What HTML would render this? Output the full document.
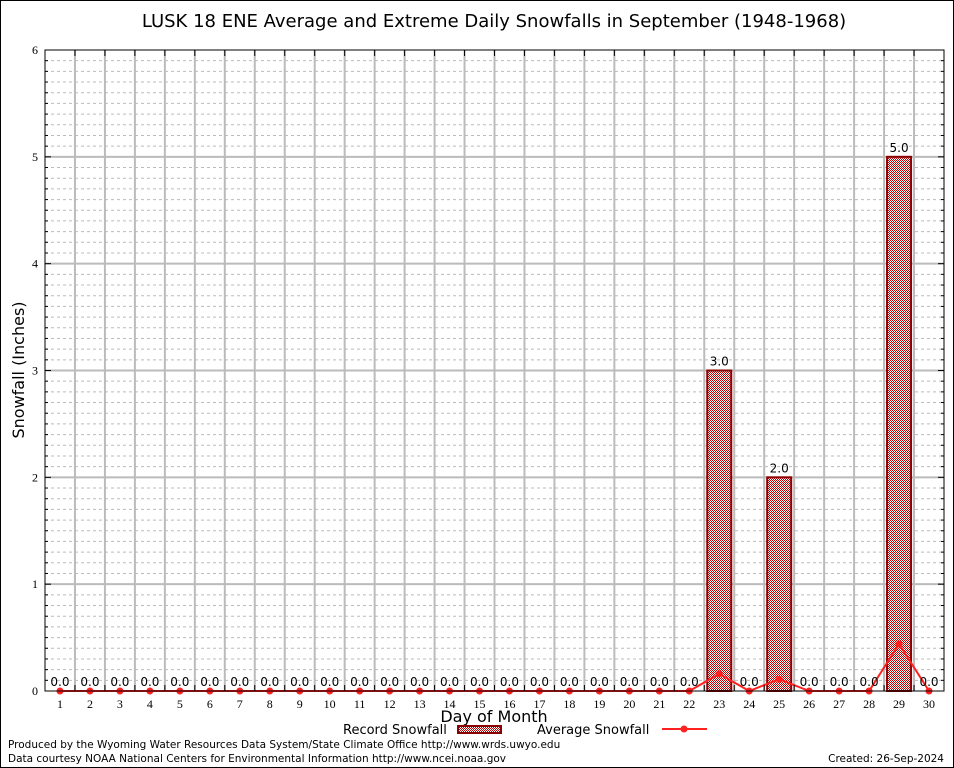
<!DOCTYPE html>
<html><head><meta charset="utf-8"><style>
body{margin:0;background:#fff;}
svg{display:block;font-family:"DejaVu Sans","Liberation Sans",sans-serif;}
</style></head><body>
<svg id="chart" width="954" height="768" viewBox="0 0 954 768">
<defs>
<pattern id="chk" width="2" height="2" patternUnits="userSpaceOnUse">
<rect width="2" height="2" fill="#fff"/><rect width="1" height="1" fill="#c00000"/><rect x="1" y="1" width="1" height="1" fill="#c00000"/>
</pattern>
</defs>
<rect x="0.5" y="0.5" width="953" height="767" fill="#fff" stroke="#000"/>
<text x="494" y="27" font-size="18" text-anchor="middle">LUSK 18 ENE Average and Extreme Daily Snowfalls in September (1948-1968)</text>
<g id="grid"></g>
<g id="bars"></g>
<g id="avg"></g>
<g id="labels"></g>
<rect x="45" y="50" width="899" height="641" fill="none" stroke="#000"/>
<g id="axes"></g>
<text x="24" y="370" font-size="16" text-anchor="middle" transform="rotate(-90 24 370)">Snowfall (Inches)</text>
<text x="494" y="722" font-size="16" text-anchor="middle">Day of Month</text>
<g>
<text x="343" y="734" font-size="13">Record Snowfall</text>
<rect x="458" y="726" width="43" height="7" fill="url(#chk)" stroke="#8b0000" stroke-width="2"/>
</g>
<g>
<text x="537" y="734" font-size="13">Average Snowfall</text>
<line x1="662" y1="729" x2="707" y2="729" stroke="#ff2020" stroke-width="2"/>
<circle cx="684" cy="729" r="3.5" fill="#ff2020"/>
</g>
<text x="8" y="748" font-size="10.5">Produced by the Wyoming Water Resources Data System/State Climate Office http://www.wrds.uwyo.edu</text>
<text x="8" y="762" font-size="10.5">Data courtesy NOAA National Centers for Environmental Information http://www.ncei.noaa.gov</text>
<text x="944" y="762" font-size="10.5" text-anchor="end">Created: 26-Sep-2024</text>
</svg>
<script>
const days=[1,2,3,4,5,6,7,8,9,10,11,12,13,14,15,16,17,18,19,20,21,22,23,24,25,26,27,28,29,30];
const recordSnow=[0,0,0,0,0,0,0,0,0,0,0,0,0,0,0,0,0,0,0,0,0,0,3,0,2,0,0,0,5,0];
const avgSnow=[0,0,0,0,0,0,0,0,0,0,0,0,0,0,0,0,0,0,0,0,0,0,0.16,0,0.11,0,0,0,0.44,0];
const yTicks=[0,1,2,3,4,5,6];
const NS="http://www.w3.org/2000/svg";
const L=45,R=944,T=50,B=691,yMax=6;
const step=(R-L)/days.length;
const xs=d=>L+step*(d-0.5);
const ys=v=>B-(v/yMax)*(B-T);
function mk(tag,at,parent){const e=document.createElementNS(NS,tag);for(const k in at)e.setAttribute(k,at[k]);document.getElementById(parent).appendChild(e);return e;}
for(let i=0;i<=yMax*10;i++){const v=i/10;if(i%10===0){if(i>0&&i<yMax*10){const g=mk('line',{x1:L,x2:R,y1:ys(v),y2:ys(v),stroke:'#bbb','stroke-width':2},'grid');

}}
else{const g=mk('line',{x1:L,x2:R,y1:ys(v),y2:ys(v),stroke:'#bbb','stroke-dasharray':'3,3'},'grid');

}
const t=mk('line',{x1:L,x2:L+(i%10===0?6:3),y1:ys(v),y2:ys(v),stroke:'#000'},'axes');


const t2=mk('line',{x1:R,x2:R-(i%10===0?6:3),y1:ys(v),y2:ys(v),stroke:'#000'},'axes');

}
for(let i=1;i<days.length;i++){const x=L+step*i;const g=mk('line',{x1:x,x2:x,y1:T,y2:B,stroke:'#bbb','stroke-width':2},'grid');


const t=mk('line',{x1:x,x2:x,y1:T,y2:T+6,stroke:'#000'},'axes');


const t2=mk('line',{x1:x,x2:x,y1:B,y2:B-6,stroke:'#000'},'axes');

}
yTicks.forEach(v=>{const t=mk('text',{x:L-7,y:ys(v)+4,'font-size':12,'text-anchor':'end','font-family':'Liberation Serif,serif'},'axes');t.textContent=v;

});
days.forEach((d,i)=>{const t=mk('text',{x:xs(d),y:B+17,'font-size':12,'text-anchor':'middle','font-family':'Liberation Serif,serif'},'axes');t.textContent=d;


const v=recordSnow[i];
if(v>0){const b=mk('rect',{x:xs(d)-12,y:ys(v),width:24,height:B-ys(v),fill:'url(#chk)',stroke:'#8b0000','stroke-width':2},'bars');

}
const lb=mk('text',{x:xs(d),y:ys(v)-5,'font-size':12,'text-anchor':'middle'},'labels');lb.textContent=v.toFixed(1);

});
const pts=days.map((d,i)=>xs(d)+','+ys(avgSnow[i])).join(' ');
const pl=mk('polyline',{points:pts,fill:'none',stroke:'#ff2020','stroke-width':2},'avg');


days.forEach((d,i)=>{const c=mk('circle',{cx:xs(d),cy:ys(avgSnow[i]),r:3.5,fill:'#ff2020'},'avg');

});
</script>
</body></html>
